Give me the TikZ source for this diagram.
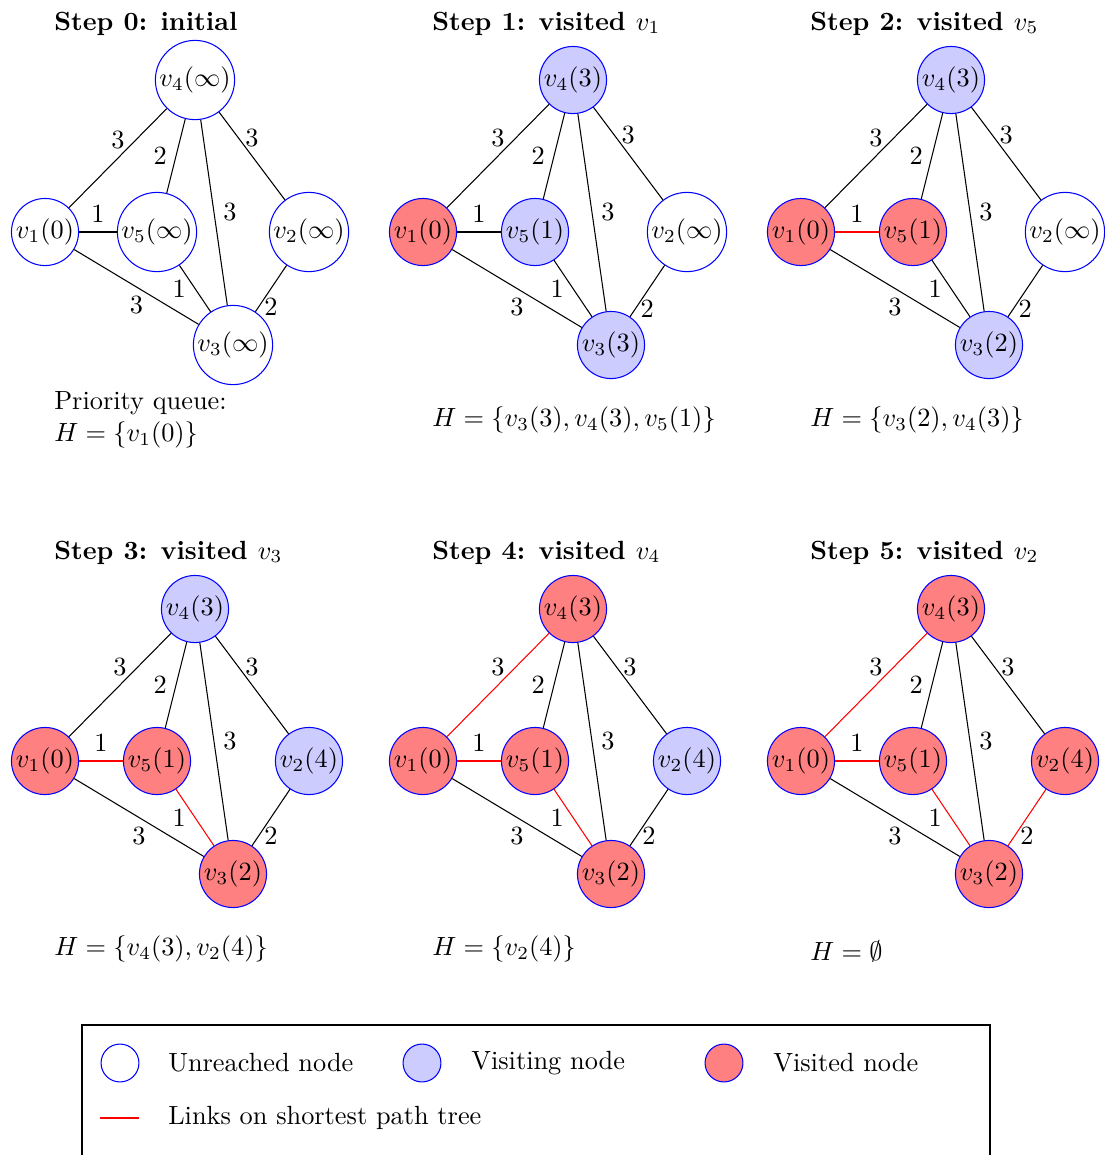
\documentclass[tikz,border=0pt]{standalone}
% The eight weighted links of the sample graph; each argument is the style of one link
\newcommand\graphedges[8]{%
  \draw[#1] (v1) -- node[lbl,above]{1} (v5);
  \draw[#2] (v1) -- node[lbl,above]{3} (v4);
  \draw[#3] (v1) -- node[lbl,below]{3} (v3);
  \draw[#4] (v5) -- node[lbl,left]{2} (v4);
  \draw[#5] (v5) -- node[lbl,left]{1} (v3);
  \draw[#6] (v4) -- node[lbl,right]{3} (v3);
  \draw[#7] (v4) -- node[lbl,above]{3} (v2);
  \draw[#8] (v2) -- node[lbl,below]{2} (v3);
}
\begin{document}
\begin{tikzpicture}[x=0.38pt,y=-0.38pt,
  vtx/.style={circle,draw=blue,inner sep=0.5pt},
  unreached/.style={vtx,fill=white},
  visiting/.style={vtx,fill=blue!20},
  visited/.style={vtx,fill=red!50},
  plain/.style={draw=black},
  tree/.style={draw=red},
  lbl/.style={},
  steptitle/.style={anchor=base west,font=\bfseries},
  queue/.style={anchor=west,align=left},
  legendmark/.style={circle,draw=blue,inner sep=0pt,minimum size=14.4pt},
  legendtext/.style={anchor=west},
]
\useasboundingbox (0,0) rectangle (1105,1155);

% ---------- Step 0 ----------
\begin{scope}[name prefix=a-]
  \node[steptitle] (title) at (45,30) {Step 0: initial};
  \node[unreached] (v4) at (195,80) {$v_4(\infty)$};
  \node[unreached] (v1) at (45,232) {$v_1(0)$};
  \node[unreached] (v5) at (157,232) {$v_5(\infty)$};
  \node[unreached] (v2) at (309,232) {$v_2(\infty)$};
  \node[unreached] (v3) at (233,345) {$v_3(\infty)$};
  \graphedges{plain}{plain}{plain}{plain}{plain}{plain}{plain}{plain}
  \node[queue] (heap) at (45,420) {Priority queue:\\ $H=\{v_1(0)\}$};
\end{scope}

% ---------- Step 1 ----------
\begin{scope}[shift={(378,0)},name prefix=b-]
  \node[steptitle] (title) at (45,30) {Step 1: visited \mdseries$v_1$};
  \node[visiting] (v4) at (195,80) {$v_4(3)$};
  \node[visited] (v1) at (45,232) {$v_1(0)$};
  \node[visiting] (v5) at (157,232) {$v_5(1)$};
  \node[unreached] (v2) at (309,232) {$v_2(\infty)$};
  \node[visiting] (v3) at (233,345) {$v_3(3)$};
  \graphedges{plain}{plain}{plain}{plain}{plain}{plain}{plain}{plain}
  \node[queue] (heap) at (45,420) {$H=\{v_3(3),v_4(3),v_5(1)\}$};
\end{scope}

% ---------- Step 2 ----------
\begin{scope}[shift={(756,0)},name prefix=c-]
  \node[steptitle] (title) at (45,30) {Step 2: visited \mdseries$v_5$};
  \node[visiting] (v4) at (195,80) {$v_4(3)$};
  \node[visited] (v1) at (45,232) {$v_1(0)$};
  \node[visited] (v5) at (157,232) {$v_5(1)$};
  \node[unreached] (v2) at (309,232) {$v_2(\infty)$};
  \node[visiting] (v3) at (233,345) {$v_3(2)$};
  \graphedges{tree}{plain}{plain}{plain}{plain}{plain}{plain}{plain}
  \node[queue] (heap) at (45,420) {$H=\{v_3(2),v_4(3)\}$};
\end{scope}

% ---------- Step 3 ----------
\begin{scope}[shift={(0,529)},name prefix=d-]
  \node[steptitle] (title) at (45,30) {Step 3: visited \mdseries$v_3$};
  \node[visiting] (v4) at (195,80) {$v_4(3)$};
  \node[visited] (v1) at (45,232) {$v_1(0)$};
  \node[visited] (v5) at (157,232) {$v_5(1)$};
  \node[visiting] (v2) at (309,232) {$v_2(4)$};
  \node[visited] (v3) at (233,345) {$v_3(2)$};
  \graphedges{tree}{plain}{plain}{plain}{tree}{plain}{plain}{plain}
  \node[queue] (heap) at (45,420) {$H=\{v_4(3),v_2(4)\}$};
\end{scope}

% ---------- Step 4 ----------
\begin{scope}[shift={(378,529)},name prefix=e-]
  \node[steptitle] (title) at (45,30) {Step 4: visited \mdseries$v_4$};
  \node[visited] (v4) at (195,80) {$v_4(3)$};
  \node[visited] (v1) at (45,232) {$v_1(0)$};
  \node[visited] (v5) at (157,232) {$v_5(1)$};
  \node[visiting] (v2) at (309,232) {$v_2(4)$};
  \node[visited] (v3) at (233,345) {$v_3(2)$};
  \graphedges{tree}{tree}{plain}{plain}{tree}{plain}{plain}{plain}
  \node[queue] (heap) at (45,420) {$H=\{v_2(4)\}$};
\end{scope}

% ---------- Step 5 ----------
\begin{scope}[shift={(756,529)},name prefix=f-]
  \node[steptitle] (title) at (45,30) {Step 5: visited \mdseries$v_2$};
  \node[visited] (v4) at (195,80) {$v_4(3)$};
  \node[visited] (v1) at (45,232) {$v_1(0)$};
  \node[visited] (v5) at (157,232) {$v_5(1)$};
  \node[visited] (v2) at (309,232) {$v_2(4)$};
  \node[visited] (v3) at (233,345) {$v_3(2)$};
  \graphedges{tree}{tree}{plain}{plain}{tree}{plain}{plain}{tree}
  \node[queue] (heap) at (45,422) {$H=\emptyset$};
\end{scope}

% ---------- Legend ----------
\draw (82,1025) rectangle (990,1157);
\node[legendmark,fill=white] (lgunreached) at (120,1063) {};
\node[legendtext] (lgunreachedtxt) at (159,1063) {Unreached node};
\node[legendmark,fill=blue!20] (lgvisiting) at (422,1063) {};
\node[legendtext] (lgvisitingtxt) at (462,1063) {Visiting node};
\node[legendmark,fill=red!50] (lgvisited) at (724,1063) {};
\node[legendtext] (lgvisitedtxt) at (764,1063) {Visited node};
\coordinate (lglinea) at (100,1118);
\coordinate (lglineb) at (139,1118);
\draw[tree] (lglinea) -- (lglineb);
\node[legendtext] (lglinetxt) at (159,1118) {Links on shortest path tree};
\end{tikzpicture}
\end{document}
